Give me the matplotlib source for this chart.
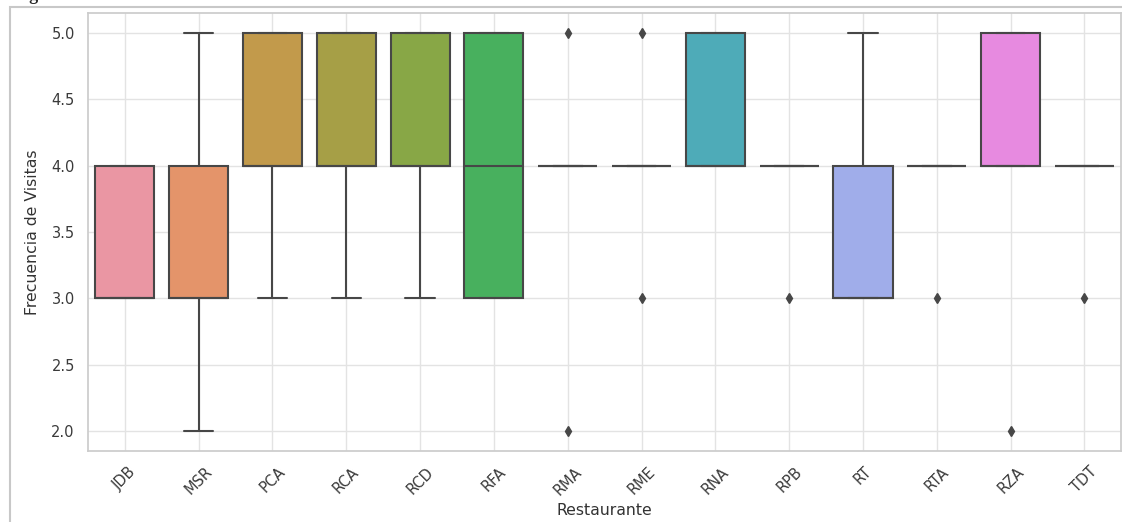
import matplotlib
matplotlib.use("Agg")
import matplotlib.pyplot as plt
import seaborn as sns
import pandas as pd

# Frecuencia de visitas (1-5) por restaurante
restaurantes = ["JDB", "MSR", "PCA", "RCA", "RCD", "RFA", "RMA",
                "RME", "RNA", "RPB", "RT", "RTA", "RZA", "TDT"]
visitas = {
    "JDB": [3, 3, 3, 4, 4],
    "MSR": [2, 3, 3, 3, 4, 4, 5],
    "PCA": [3, 4, 4, 5, 5],
    "RCA": [3, 4, 4, 5, 5],
    "RCD": [3, 4, 4, 5, 5],
    "RFA": [3, 3, 4, 5, 5],
    "RMA": [2, 4, 4, 4, 4, 4, 5],
    "RME": [3, 4, 4, 4, 4, 4, 5],
    "RNA": [4, 4, 4, 5, 5],
    "RPB": [3, 4, 4, 4, 4],
    "RT": [3, 3, 3, 4, 5],
    "RTA": [3, 4, 4, 4, 4],
    "RZA": [2, 4, 4, 5, 5],
    "TDT": [3, 4, 4, 4, 4],
}

rows = [(r, v) for r in restaurantes for v in visitas[r]]
df = pd.DataFrame(rows, columns=["Restaurante", "Frecuencia de Visitas"])

sns.set_theme(style="whitegrid")
plt.rcParams["font.family"] = ["DejaVu Sans"]

fig = plt.figure(figsize=(11.22, 5.22), dpi=100)
ax = fig.add_axes([0.0784, 0.136, 0.921, 0.839])

paleta = sns.husl_palette(len(restaurantes), h=0.01, s=0.9, l=0.7)
sns.boxplot(data=df, x="Restaurante", y="Frecuencia de Visitas",
            hue="Restaurante", order=restaurantes, hue_order=restaurantes,
            palette=paleta, legend=False, saturation=0.75, ax=ax,
            linecolor="#474747", linewidth=1.5,
            flierprops=dict(marker="d", markerfacecolor="#474747",
                            markeredgecolor="#474747", markersize=5))

ax.set_ylim(1.85, 5.15)
ax.set_xlim(-0.5, 13.5)
ax.tick_params(axis="both", labelsize=10.5, colors="#3a3a3a")
ax.tick_params(axis="x", rotation=45)
ax.set_xlabel("Restaurante", fontsize=11.3, color="#333333")
ax.set_ylabel("Frecuencia de Visitas", fontsize=11.3, color="#333333",
              labelpad=8)
ax.grid(True, color="#e3e3e3")
for s in ax.spines.values():
    s.set_color("#cccccc")

# marco exterior y título recortado del documento
fig.add_artist(plt.Rectangle((10 / 1122, -0.1), 1.2, 1 - 7 / 522 + 0.1,
                             transform=fig.transFigure, fill=False,
                             edgecolor="#c8c8c8", linewidth=1.5))
fig.text(14 / 1122, 1.0, "Figura", fontsize=13, fontweight="bold",
         family="Liberation Serif", va="baseline")

fig.savefig("out.png", dpi=100)
